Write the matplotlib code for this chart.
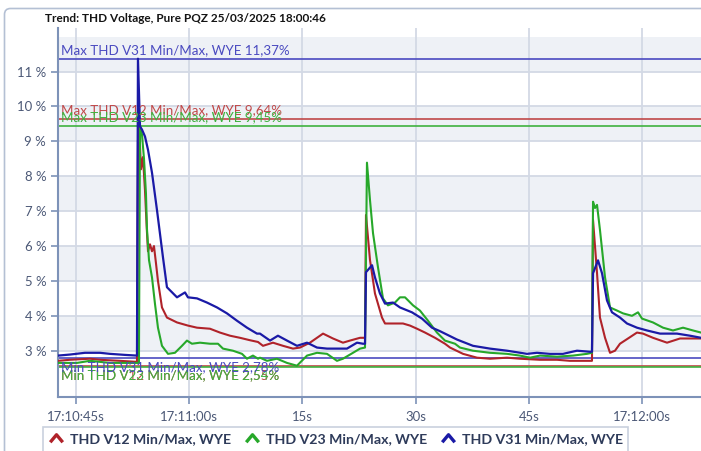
import numpy as np
import matplotlib
matplotlib.use("Agg")
import matplotlib.pyplot as plt
from matplotlib.patches import FancyBboxPatch, Rectangle
from matplotlib.lines import Line2D
from matplotlib.path import Path

plt.rcParams['font.family'] = ['Lato', 'DejaVu Sans']

# time in seconds after 17:10:45
t_v12 = [-2.38, -0.79, 1.85, 3.18, 5.83, 8.08, 8.21, 8.34, 8.61, 8.87, 9.14, 9.40, 9.54, 9.80, 10.07,
         10.33, 10.60, 10.86, 11.39, 12.05, 13.38, 14.83, 16.03, 17.75, 19.07, 20.40, 21.72, 23.05,
         24.11, 24.77, 26.09, 27.42, 28.74, 29.67, 30.99, 32.72, 34.04, 35.36, 36.29, 37.62, 38.28,
         38.41, 38.94, 39.60, 40.53, 40.93, 42.25, 43.31, 44.24, 45.17, 46.23, 47.55, 48.87, 49.54,
         51.26, 53.11, 54.83, 57.09, 58.81, 61.46, 63.71, 65.43, 68.34, 68.48, 69.01, 69.40, 70.07,
         70.73, 71.39, 72.05, 73.11, 74.30, 75.10, 76.42, 78.28, 80.00, 81.72, 82.78]
v12 = [2.71, 2.74, 2.77, 2.74, 2.71, 2.68, 9.0, 9.64, 8.2, 8.55, 7.6, 6.4, 5.85, 6.05, 5.85,
       6.0, 5.5, 5.0, 4.24, 3.95, 3.81, 3.72, 3.66, 3.63, 3.52, 3.43, 3.37, 3.30,
       3.25, 3.14, 3.23, 3.14, 3.06, 3.09, 3.23, 3.49, 3.35, 3.23, 3.29, 3.37, 3.37,
       6.89, 5.6, 4.64, 3.95, 3.78, 3.78, 3.78, 3.72, 3.63, 3.52, 3.37, 3.2, 3.09,
       2.91, 2.8, 2.77, 2.8, 2.77, 2.74, 2.74, 2.71, 2.71, 6.75, 5.22, 3.95, 3.37,
       2.94, 3.0, 3.2, 3.35, 3.52, 3.49, 3.37, 3.23, 3.35, 3.35, 3.35]

t_v23 = [-2.38, 0.13, 1.85, 4.50, 8.08, 8.34, 8.48, 8.74, 9.01, 9.27, 9.40, 9.67, 10.07, 10.46,
         10.86, 11.39, 12.19, 13.11, 14.04, 14.70, 15.36, 16.42, 17.75, 18.81, 19.47, 20.79, 21.99,
         22.65, 23.44, 24.11, 24.37, 25.30, 26.62, 27.95, 29.27, 30.60, 31.92, 33.25, 34.57, 35.36,
         36.69, 37.62, 38.28, 38.54, 38.94, 39.34, 40.00, 40.66, 41.32, 42.25, 42.91, 43.58, 44.64,
         45.56, 46.62, 47.81, 48.87, 50.20, 50.86, 52.58, 54.83, 57.09, 58.81, 60.13, 61.46, 63.71,
         65.83, 67.68, 68.34, 68.48, 68.74, 69.01, 69.40, 70.07, 70.73, 71.66, 72.45, 73.64, 74.44,
         74.97, 76.42, 77.75, 79.07, 80.40, 81.72, 82.78]
v23 = [2.65, 2.65, 2.71, 2.65, 2.65, 2.65, 9.45, 9.2, 8.5, 7.5, 6.5, 5.6, 5.1, 4.35,
       3.66, 3.14, 2.91, 2.94, 3.14, 3.29, 3.2, 3.23, 3.2, 3.2, 3.06, 3.0, 2.91,
       2.77, 2.86, 2.77, 2.8, 2.71, 2.77, 2.65, 2.57, 2.86, 2.94, 2.91, 2.71, 2.77,
       2.94, 3.06, 3.09, 8.39, 7.32, 6.37, 5.39, 4.5, 4.3, 4.38, 4.53, 4.53, 4.3,
       4.15, 3.86, 3.52, 3.29, 3.2, 3.09, 3.0, 2.94, 2.91, 2.86, 2.8, 2.86, 2.83,
       2.86, 2.91, 2.94, 7.27, 7.09, 7.18, 6.46, 5.1, 4.24, 4.15, 4.07, 4.0, 4.1,
       3.92, 3.81, 3.66, 3.58, 3.66, 3.58, 3.52]

t_v31 = [-2.38, -0.79, 1.19, 3.18, 4.50, 6.49, 8.08, 8.21, 8.48, 8.74, 9.14, 9.54, 10.07, 10.73,
         11.52, 12.05, 13.38, 14.44, 14.83, 16.03, 17.35, 18.68, 20.00, 21.32, 22.65, 23.97, 24.37,
         25.70, 26.75, 27.95, 29.27, 30.60, 31.92, 33.25, 34.57, 35.89, 37.22, 38.01, 38.28, 38.41,
         39.21, 39.60, 40.26, 40.93, 41.99, 42.91, 44.50, 45.83, 47.15, 48.21, 50.46, 52.58, 54.83,
         57.09, 59.74, 61.06, 62.78, 64.50, 66.36, 68.08, 68.34, 68.48, 69.14, 69.67, 70.33, 70.99,
         72.05, 72.98, 74.30, 75.63, 77.35, 79.60, 81.32, 82.78]
v31 = [2.86, 2.89, 2.94, 2.94, 2.91, 2.88, 2.86, 11.37, 9.43, 9.34, 9.14, 8.76, 8.1, 7.03,
       5.68, 4.82, 4.53, 4.67, 4.53, 4.5, 4.38, 4.24, 4.07, 3.86, 3.66, 3.49, 3.49,
       3.29, 3.43, 3.29, 3.14, 3.23, 3.09, 3.06, 3.06, 3.06, 3.23, 3.2, 3.2, 5.25,
       5.45, 5.1, 4.64, 4.35, 4.38, 4.24, 4.1, 3.92, 3.66, 3.56, 3.32, 3.14, 3.06,
       3.0, 2.91, 2.94, 2.91, 2.91, 3.0, 2.97, 2.97, 5.22, 5.59, 5.22, 4.44, 4.1,
       3.95, 3.78, 3.66, 3.58, 3.49, 3.49, 3.43, 3.37]

max_vals = [9.64, 9.45, 11.37]
min_vals = [2.55, 2.54, 2.78]
names = ['THD V12 Min/Max, WYE', 'THD V23 Min/Max, WYE', 'THD V31 Min/Max, WYE']
tick_pos = [0, 15, 30, 45, 60, 75]
tick_lab = ['17:10:45s', '17:11:00s', '15s', '30s', '45s', '17:12:00s']
title = 'Trend: THD Voltage, Pure PQZ 25/03/2025 18:00:46'

line_cols = ['#b0232a', '#27a82a', '#1a1aa6']
ref_cols = ['#c04848', '#3fb23f', '#4a4ac0']
spine_col = '#7d92b8'
txt_col = '#4b5876'
W, H = 701, 451

fig = plt.figure(figsize=(7.01, 4.51), dpi=100)
renderer = fig.canvas.get_renderer()


def fit_size(s, target_px, weight='normal'):
    # font size that makes the string about target_px wide
    t = fig.text(0, 0, s, fontsize=10, fontweight=weight)
    w = t.get_window_extent(renderer).width
    t.remove()
    return 10 * target_px / w


fs_title = fit_size(title, 280, 'bold')
fs_ref = fit_size('Max THD V31 Min/Max, WYE 11,37%', 227)
fs_leg = fit_size(names[0], 162, 'bold')
fs_tick = fit_size('17:10:45s', 58)

ax = fig.add_axes([58 / W, 1 - 397 / H, 1 - 58 / W, (397 - 28) / H])

# alternating bands
for lo in [3, 5, 7, 9, 11]:
    ax.axhspan(lo, lo + 1, color='#eef1f6', zorder=0, lw=0)

ax.set_xlim(-2.38, 82.78)
ax.set_ylim(1.673, 12.25)
ax.set_yticks(range(3, 12))
ax.set_yticklabels([f'{v} %' for v in range(3, 12)])
ax.set_xticks(tick_pos)
ax.set_xticklabels(tick_lab)
ax.grid(True, color='#d3d9e5', lw=1.3, zorder=1)
ax.set_axisbelow(True)

for s in ['top', 'right']:
    ax.spines[s].set_visible(False)
for s in ['left', 'bottom']:
    ax.spines[s].set_color(spine_col)
    ax.spines[s].set_linewidth(1.5)
ax.tick_params(colors=spine_col, labelcolor=txt_col, labelsize=fs_tick, width=1.2, length=5)
ax.tick_params(axis='x', pad=5)

# reference lines + labels
for i in range(3):
    ax.axhline(max_vals[i], color=ref_cols[i], lw=1.2, zorder=2)
    ax.axhline(min_vals[i], color=ref_cols[i], lw=1.2, zorder=2)
for i in [0, 1, 2]:
    mx = f'{max_vals[i]:.2f}'.replace('.', ',')
    mn = f'{min_vals[i]:.2f}'.replace('.', ',')
    ax.annotate(f'Max {names[i]} {mx}%', (0, max_vals[i]), xycoords=('axes fraction', 'data'),
                xytext=(2, 3.5), textcoords='offset points', va='baseline', ha='left',
                color=ref_cols[i], fontsize=fs_ref, zorder=5)
    ax.annotate(f'Min {names[i]} {mn}%', (0, min_vals[i]), xycoords=('axes fraction', 'data'),
                xytext=(2, -2), textcoords='offset points', va='top', ha='left',
                color=ref_cols[i], fontsize=fs_ref, zorder=5)

ax.plot(t_v12, v12, color=line_cols[0], lw=1.5, zorder=3)
ax.plot(t_v23, v23, color=line_cols[1], lw=1.5, zorder=3)
ax.plot(t_v31, v31, color=line_cols[2], lw=1.6, zorder=4)

# title
fig.text(45 / W, 1 - 18 / H, title,
         fontsize=fs_title, fontweight='bold', color='#141414', va='center', ha='left')

# outer frame
frame = FancyBboxPatch((4.5, -20), 760, H - 8.5 + 20, boxstyle='round,pad=0,rounding_size=6',
                       transform=None, fill=False, ec='#b4c0d4', lw=1.2)
fig.patches.append(frame)

# legend, drawn by hand in pixel coordinates
fig.patches.append(Rectangle((42.5, -10), 585, H - 427 + 10, transform=None,
                             fill=False, ec='#c9d1de', lw=1.2))
chev = Path([(-1, -0.6), (0, 0.6), (1, -0.6)], [Path.MOVETO, Path.LINETO, Path.LINETO])
x = 56
ly = H - 439
for c, name in zip(line_cols, names):
    fig.add_artist(Line2D([x / W], [ly / H + 0.002], ls='None', marker=chev, markersize=9,
                          markeredgewidth=2.4, fillstyle='none', color=c))
    txt = fig.text((x + 14) / W, ly / H, name, fontsize=fs_leg, fontweight='bold',
                   color='#2e3b5a', va='center', ha='left')
    w = txt.get_window_extent(renderer).width
    x = x + 14 + w + 21

fig.savefig('out.png', dpi=100)
